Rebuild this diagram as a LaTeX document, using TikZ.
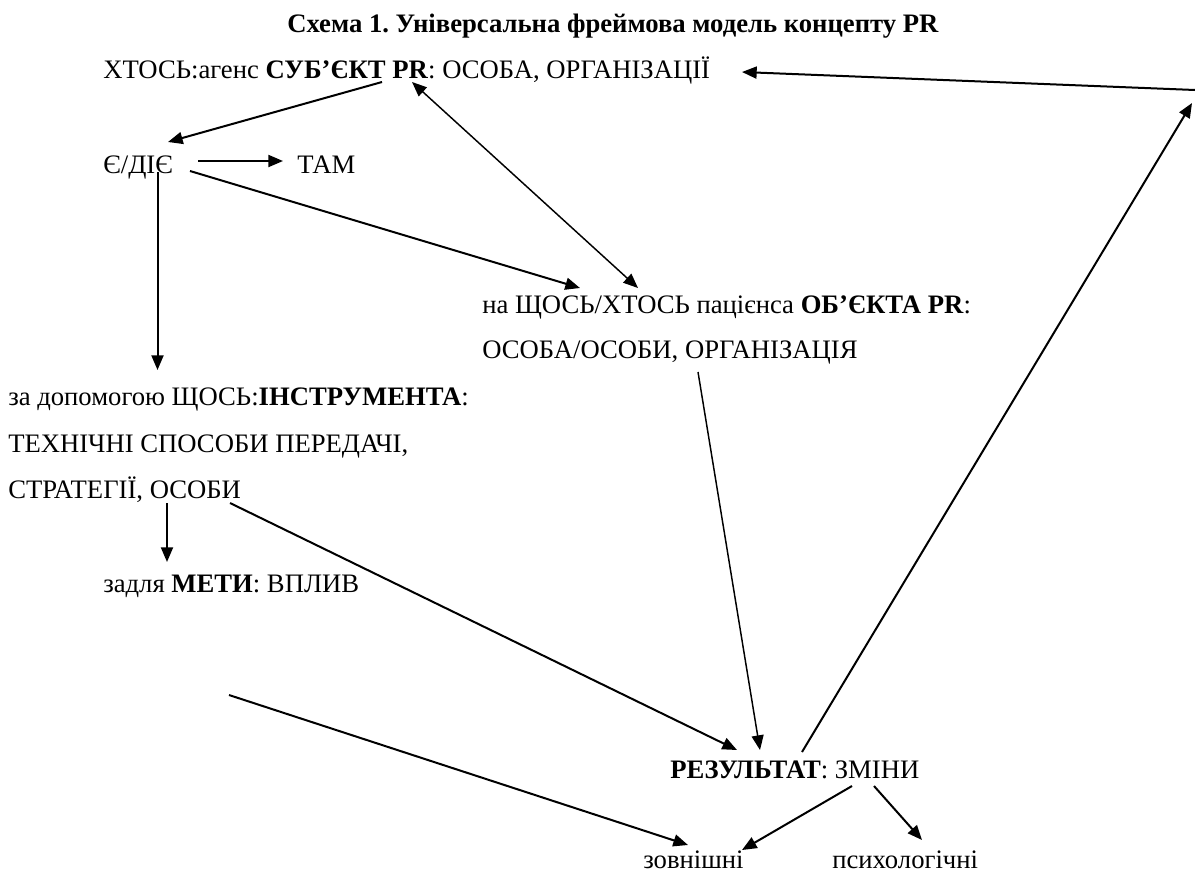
\documentclass[tikz,border=0pt]{standalone}
\usepackage{fontspec}
\setmainfont{Liberation Serif}
\usetikzlibrary{arrows.meta}
\frenchspacing
\begin{document}
\begin{tikzpicture}[x=0.75pt,y=-0.75pt,
  >={Triangle[length=11pt,width=9pt]},
  lbl/.style={inner sep=0pt, anchor=base west, font=\fontsize{20}{24}\selectfont},
  ttl/.style={inner sep=0pt, anchor=base west, font=\fontsize{20}{24}\selectfont\bfseries},
  conn/.style={line width=1.5pt, ->},
  thinconn/.style={line width=1.1pt, ->},
  ]
\useasboundingbox (0,0) rectangle (1195,872);
% texts
\node[ttl] (title) at (287,32) {Схема 1. Універсальна фреймова модель концепту PR};
\node[lbl] (subj) at (103,78) {ХТОСЬ:агенс \textbf{СУБ’ЄКТ PR}: ОСОБА, ОРГАНІЗАЦІЇ};
\node[lbl] (diye) at (103,173) {Є/ДІЄ};
\node[lbl] (tam) at (297,173) {ТАМ};
\node[lbl] (obj) at (482,313) {на ЩОСЬ/ХТОСЬ пацієнса \textbf{ОБ’ЄКТА PR}:};
\node[lbl] (obj2) at (482,358) {ОСОБА/ОСОБИ, ОРГАНІЗАЦІЯ};
\node[lbl] (instr) at (8,405) {за допомогою ЩОСЬ:\textbf{ІНСТРУМЕНТА}:};
\node[lbl] (instr2) at (8,452) {ТЕХНІЧНІ СПОСОБИ ПЕРЕДАЧІ,};
\node[lbl] (instr3) at (8,498) {СТРАТЕГІЇ, ОСОБИ};
\node[lbl] (meta) at (103,592) {задля \textbf{МЕТИ}: ВПЛИВ};
\node[lbl] (res) at (670,778) {\textbf{РЕЗУЛЬТАТ}: ЗМІНИ};
\node[lbl] (ext) at (643,868) {зовнішні};
\node[lbl] (psy) at (832,868) {психологічні};
% free ends
\coordinate (rc) at (1192,103);
\coordinate (rc1) at (1195,90);
\coordinate (ls) at (229,695);
% connectors
\draw[conn] ([shift={(279,4)}]subj.base west) -- ([shift={(65,-31)}]diye.base west);
\draw[conn] ([shift={(95,-12)}]diye.base west) -- ([shift={(-14,-12)}]tam.base west);
\draw[conn] ([shift={(87,-2)}]diye.base west) -- ([shift={(98,-25)}]obj.base west);
\draw[thinconn,<->] ([shift={(309,4)}]subj.base west) -- ([shift={(156,-25)}]obj.base west);
\draw[conn] ([shift={(54.5,-1)}]diye.base west) -- ([shift={(149.5,-35)}]instr.base west);
\draw[conn] ([shift={(159,5)}]instr3.base west) -- ([shift={(64,-30)}]meta.base west);
\draw[conn] ([shift={(222,5)}]instr3.base west) -- ([shift={(67,-28)}]res.base west);
\draw[thinconn] ([shift={(216,14)}]obj2.base west) -- ([shift={(90,-28)}]res.base west);
\draw[conn] ([shift={(132,-26)}]res.base west) -- (rc);
\draw[conn] (rc1) -- ([shift={(639,-6)}]subj.base west);
\draw[conn] (ls) -- ([shift={(45,-23)}]ext.base west);
\draw[conn] ([shift={(182,8)}]res.base west) -- ([shift={(99,-18)}]ext.base west);
\draw[conn] ([shift={(204,8)}]res.base west) -- ([shift={(90,-28)}]psy.base west);
\end{tikzpicture}
\end{document}
